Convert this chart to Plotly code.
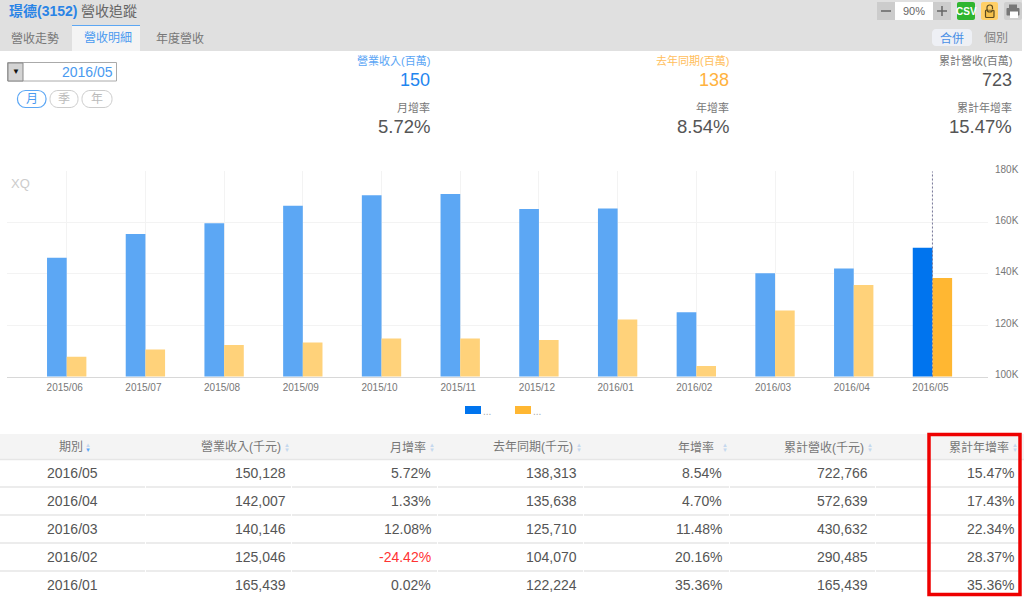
import plotly.graph_objects as go

W, H = 1024, 597
FONT = "Liberation Sans, Arial, Noto Sans CJK TC, sans-serif"

# chart data (thousand NTD)
months = ["2015/06", "2015/07", "2015/08", "2015/09", "2015/10", "2015/11",
          "2015/12", "2016/01", "2016/02", "2016/03", "2016/04", "2016/05"]
revenue = [146200, 155500, 159700, 166500, 170600, 171000,
           165200, 165439, 125046, 140146, 142007, 150128]
last_year = [107700, 110500, 112300, 113200, 114800, 114800,
             114200, 122224, 104070, 125710, 135638, 138313]
y_ticks = [100000, 120000, 140000, 160000, 180000]
y_labels = ["100K", "120K", "140K", "160K", "180K"]

# table data
headers = ["期別", "營業收入(千元)", "月增率", "去年同期(千元)", "年增率", "累計營收(千元)", "累計年增率"]
t_period = ["2016/05", "2016/04", "2016/03", "2016/02", "2016/01"]
t_revenue = [150128, 142007, 140146, 125046, 165439]
t_mom = [5.72, 1.33, 12.08, -24.42, 0.02]
t_last_year = [138313, 135638, 125710, 104070, 122224]
t_yoy = [8.54, 4.70, 11.48, 20.16, 35.36]
t_cum = [722766, 572639, 430632, 290485, 165439]
t_cum_yoy = [15.47, 17.43, 22.34, 28.37, 35.36]

# summary block
kpi_top = [("營業收入(百萬)", "150", 431, "#5aa5f5", "#1f86ef"),
           ("去年同期(百萬)", "138", 730, "#ffbe5c", "#ffb23e"),
           ("累計營收(百萬)", "723", 1013, "#777777", "#555555")]
kpi_bottom = [("月增率", "5.72%", 431), ("年增率", "8.54%", 730), ("累計年增率", "15.47%", 1013)]

BLUE, BLUE_LIGHT = "#0074ee", "#5ca7f4"
ORANGE, ORANGE_LIGHT = "#ffb732", "#ffd27a"


def px(x):
    return x / W


def py(y):
    return 1 - y / H


shapes = []
annotations = []


def box(x0, y0, x1, y1, fill=None, line=None, width=1, layer="above"):
    shapes.append(dict(type="rect", xref="paper", yref="paper", layer=layer,
                       x0=px(x0), x1=px(x1), y0=py(y0), y1=py(y1),
                       fillcolor=fill or "rgba(0,0,0,0)",
                       line=dict(color=line or "rgba(0,0,0,0)", width=width if line else 0)))


def pill(x0, y0, x1, y1, r, fill=None, line=None, width=1):
    # rounded rectangle, path coordinates are paper fractions
    k = r * 0.45
    pts = [("M", x0 + r, y0), ("L", x1 - r, y0), ("C", x1 - k, y0, x1, y0 + k, x1, y0 + r),
           ("L", x1, y1 - r), ("C", x1, y1 - k, x1 - k, y1, x1 - r, y1), ("L", x0 + r, y1),
           ("C", x0 + k, y1, x0, y1 - k, x0, y1 - r), ("L", x0, y0 + r),
           ("C", x0, y0 + k, x0 + k, y0, x0 + r, y0)]
    d = ""
    for p in pts:
        d += p[0] + " " + " ".join(
            f"{px(p[i]):.5f},{py(p[i + 1]):.5f}" for i in range(1, len(p), 2)) + " "
    shapes.append(dict(type="path", xref="paper", yref="paper", path=d + "Z",
                       fillcolor=fill or "rgba(0,0,0,0)",
                       line=dict(color=line or "rgba(0,0,0,0)", width=width if line else 0)))


def hline(x0, x1, y, color, width=1):
    shapes.append(dict(type="line", xref="paper", yref="paper", x0=px(x0), x1=px(x1),
                       y0=py(y), y1=py(y), line=dict(color=color, width=width)))


def label(x, y, text, size, color, anchor="right", bold=False):
    if bold:
        text = "<b>" + text + "</b>"
    annotations.append(dict(xref="paper", yref="paper", x=px(x), y=py(y), text=text,
                            showarrow=False, xanchor=anchor, yanchor="middle", borderpad=0,
                            font=dict(family=FONT, size=size, color=color)))


# top bar
box(0, 0, 1022, 51, fill="#e0e0e0", layer="below")
box(72, 25, 140, 51, fill="#f4f4f4")
hline(72, 140, 25.5, "#5ca7f4", 1)
label(8, 11, "璟德(3152)", 14, "#2a84e6", "left", True)
label(80, 11, "營收追蹤", 14, "#666666", "left")
label(10, 38, "營收走勢", 12, "#777777", "left")
label(83, 38, "營收明細", 12, "#4a9af0", "left")
label(155, 38, "年度營收", 12, "#777777", "left")

# toolbar buttons
box(877, 2, 895, 20, fill="#cccccc")
box(895, 2, 933, 20, fill="#ffffff")
box(933, 2, 951, 20, fill="#cccccc")
hline(881, 891, 11, "#666666", 1.5)
hline(937, 947, 11, "#666666", 1.5)
shapes.append(dict(type="line", xref="paper", yref="paper", x0=px(942), x1=px(942),
                   y0=py(6), y1=py(16), line=dict(color="#666666", width=1.5)))
label(914, 11, "90%", 11, "#666666", "center")
pill(957, 2, 975, 20, 2, fill="#2fb52f")
label(966, 11.5, "CSV", 10, "#ffffff", "center", True)
pill(981, 2, 998, 20, 2, fill="#ffcf66")
pill(985.5, 10, 994, 17.5, 1, fill="#f5c04a", line="#5a4a1e", width=1.2)
pill(987, 5, 992.5, 12, 2.5, line="#5a4a1e", width=1.2)
box(988, 9, 994, 9.6, fill="#ffcf66")
pill(1004, 2, 1022, 20, 2, fill="#cfcfcf")
pill(1006.5, 8, 1019.5, 15.5, 1, fill="#777777")
box(1009, 4.5, 1017, 8, fill="#777777")
box(1010, 11.5, 1018, 18, fill="#ffffff")
pill(932, 29, 972, 46, 4, fill="#eef0f5")
label(952, 38, "合併", 12, "#4a8fe6", "center")
label(983, 38, "個別", 12, "#808080", "left")

# date picker
box(7.5, 62.5, 116.5, 81, line="#aaaaaa")
box(8, 63, 23, 81, fill="#d4d4d4", line="#888888")
label(15.5, 72, "▼", 8, "#111111", "center")
label(113.5, 72, "2016/05", 14, "#4a9af0")
pill(17.5, 90.5, 46, 107.5, 8, fill="#ffffff", line="#5ca7f4", width=1.2)
pill(50, 90.5, 78, 107.5, 8, fill="#ffffff", line="#cccccc")
pill(82, 90.5, 112, 107.5, 8, fill="#ffffff", line="#cccccc")
label(32, 99, "月", 12, "#4a9af0", "center")
label(64, 99, "季", 12, "#bbbbbb", "center")
label(97, 99, "年", 12, "#bbbbbb", "center")

# summary numbers
for name, value, right, c1, c2 in kpi_top:
    label(right, 60.5, name, 11, c1)
    label(right, 80, value, 18, c2)
for name, value, right in kpi_bottom:
    label(right, 107.5, name, 11, "#777777")
    label(right, 127, value, 18.5, "#555555")

# chart extras
label(10, 183, "XQ", 13, "#cccccc", "left")
box(465, 406, 481, 414, fill=BLUE)
label(482, 411, "...", 10, "#aaaaaa", "left")
box(515, 406, 531, 414, fill=ORANGE)
label(532, 411, "...", 10, "#aaaaaa", "left")

# table
col_right = [0, 287, 432, 578, 723, 869, 1015]
head_right = [0, 282, 427, 574, 715, 865, 1010]
arrow_x = [88, 287, 432, 579, 725, 870, 1015]
box(0, 434, 1024, 459, fill="#f4f4f4", layer="below")
hline(0, 1024, 459.5, "#e6e6e6", 1.5)
for i, name in enumerate(headers):
    if i == 0:
        label(71, 447, name, 12, "#777777", "center")
    else:
        label(head_right[i], 447, name, 12, "#777777")
    label(arrow_x[i], 445, "▲", 6, "#c5d8ee", "center")
    label(arrow_x[i], 450, "▼", 6, "#c5d8ee" if i else "#5ca7f4", "center")

for r in range(len(t_period)):
    y = 473 + r * 28
    label(72, y, t_period[r], 14, "#555555", "center")
    label(col_right[1], y, f"{t_revenue[r]:,}", 14, "#555555")
    label(col_right[2], y, f"{t_mom[r]:.2f}%", 14, "#ff3333" if t_mom[r] < 0 else "#555555")
    label(col_right[3], y, f"{t_last_year[r]:,}", 14, "#555555")
    label(col_right[4], y, f"{t_yoy[r]:.2f}%", 14, "#555555")
    label(col_right[5], y, f"{t_cum[r]:,}", 14, "#555555")
    label(col_right[6], y, f"{t_cum_yoy[r]:.2f}%", 14, "#555555")
    if r < len(t_period) - 1:
        for c in range(7):
            hline(c * 146, c * 146 + 145, y + 14, "#e6e6e6", 1.5)

box(929, 434.5, 1020, 594.5, line="#ee0000", width=3.5)

# dotted marker on the current month
shapes.append(dict(type="line", xref="x", yref="paper", x0=months[-1], x1=months[-1],
                   y0=py(376.5), y1=py(171.5),
                   line=dict(color="#777799", width=1, dash="2px,2px")))

fig = go.Figure()
fig.add_trace(go.Bar(x=months, y=revenue, name="營業收入",
                     marker=dict(color=[BLUE_LIGHT] * 11 + [BLUE], line=dict(width=0))))
fig.add_trace(go.Bar(x=months, y=last_year, name="去年同期",
                     marker=dict(color=[ORANGE_LIGHT] * 11 + [ORANGE], line=dict(width=0))))

fig.update_layout(
    width=W, height=H, autosize=False,
    margin=dict(l=0, r=0, t=0, b=0, autoexpand=False),
    paper_bgcolor="#ffffff", plot_bgcolor="#ffffff",
    font=dict(family=FONT),
    barmode="group", bargap=0.5, bargroupgap=0,
    showlegend=False,
    shapes=shapes, annotations=annotations,
    xaxis=dict(domain=[px(7), px(988)], type="category", range=[-0.7586, 11.706],
               showgrid=True, gridcolor="#f3f3f3", gridwidth=1, zeroline=False,
               showline=True, linecolor="#d8d8d8", linewidth=1, ticks="", ticklabelstandoff=1,
               ticklabelshift=-2,
               tickfont=dict(size=10, color="#777777", family=FONT)),
    yaxis=dict(domain=[py(376.5), py(171)], side="right", range=[100000, 180000],
               tickvals=y_ticks, ticktext=y_labels,
               showgrid=True, gridcolor="#f3f3f3", gridwidth=1, zeroline=False,
               showline=False, ticks="", ticklabelstandoff=6, ticklabelshift=-2,
               tickfont=dict(size=10, color="#777777", family=FONT)),
)

fig.write_html("out.html", config={"displayModeBar": False},
               post_script="document.body.style.margin='0';")
